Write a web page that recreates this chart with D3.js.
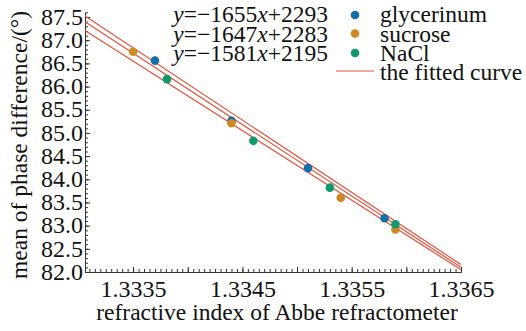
<!DOCTYPE html>
<meta charset="utf-8">
<style>
body { margin: 0; background: #fff; }
text { font-family: "Liberation Serif", "Times New Roman", serif; fill: #111; }
</style>
<body>
<div id="chart"></div>
<script src="https://cdn.jsdelivr.net/npm/d3@7"></script>
<script>
// measured points: [refractive index, mean phase difference]
var glycerinum = [[1.33370, 86.56], [1.33440, 85.26], [1.33510, 84.24], [1.33580, 83.16]]
var sucrose = [[1.33350, 86.75], [1.33440, 85.21], [1.33540, 83.60], [1.33590, 82.92]]
var nacl = [[1.33381, 86.16], [1.33460, 84.83], [1.33530, 83.82], [1.33590, 83.03]]

// fitted lines, values read at both ends of the x range
var fitGlycerinum = [[1.33306, 87.52], [1.3365, 82.16]]
var fitSucrose = [[1.33306, 87.40], [1.3365, 82.10]]
var fitNacl = [[1.33306, 87.21], [1.3365, 82.05]]

var equations = ['\u2212' + '1655', '\u2212' + '1647', '\u2212' + '1581']
var intercepts = ['2293', '2283', '2195']
var seriesNames = ['glycerinum', 'sucrose', 'NaCl']

var yTicks = [82.0, 82.5, 83.0, 83.5, 84.0, 84.5, 85.0, 85.5, 86.0, 86.5, 87.0, 87.5]
var xTicks = [1.3335, 1.3340, 1.3345, 1.3350, 1.3355, 1.3360, 1.3365]
var xLabels = ['1.3335', '1.3345', '1.3355', '1.3365']

var colors = ['#1170aa', '#cd8a24', '#109a6c']
var red = '#e4533d'
var serif = '"Liberation Serif", "Times New Roman", serif'

var width = 526
var height = 331
var margin = { left: 85, right: 461, top: 12.4, bottom: 272 }

var x = d3.scaleLinear().domain([1.33306, 1.3365]).range([margin.left, margin.right])
var y = d3.scaleLinear().domain([82.0, 87.6]).range([margin.bottom, margin.top])

var svg = d3.select('#chart')
    .append('svg')
    .attr('width', width)
    .attr('height', height)

// minor ticks
var yMinor = d3.range(820, 877).map(function (i) { return i / 10 })
var xMinor = d3.range(26662, 26731).map(function (i) { return i / 20000 })

svg.append('g')
    .attr('transform', 'translate(' + margin.left + ',0)')
    .call(d3.axisLeft(y).tickValues(yMinor).tickSize(-3).tickSizeOuter(0).tickFormat(''))
svg.append('g')
    .attr('transform', 'translate(0,' + margin.bottom + ')')
    .call(d3.axisBottom(x).tickValues(xMinor).tickSize(-3).tickSizeOuter(0).tickFormat(''))

// major ticks
var gy = svg.append('g')
    .attr('transform', 'translate(' + margin.left + ',0)')
    .call(d3.axisLeft(y).tickValues(yTicks).tickSize(-5).tickSizeOuter(0).tickPadding(2)
        .tickFormat(d3.format('.1f')))
var gx = svg.append('g')
    .attr('transform', 'translate(0,' + margin.bottom + ')')
    .call(d3.axisBottom(x).tickValues(xTicks).tickSize(-5).tickSizeOuter(0).tickPadding(8)
        .tickFormat(function (d) {
            var s = d3.format('.4f')(d)
            return xLabels.indexOf(s) >= 0 ? s : ''
        }))

svg.selectAll('g').attr('font-family', serif)
svg.selectAll('.domain').style('stroke', '#333').style('stroke-width', 1)
svg.selectAll('.tick line').style('stroke', '#333')
svg.selectAll('.tick text')
    .style('font-family', serif)
    .style('font-size', '24px')
    .style('fill', '#111')
gy.selectAll('text').attr('dy', '0.3em')
gx.selectAll('text').attr('dy', '0.71em')

// axis titles
svg.append('text')
    .attr('x', 277)
    .attr('y', 320)
    .style('text-anchor', 'middle')
    .style('font-size', '23.5px')
    .text('refractive index of Abbe refractometer')

svg.append('text')
    .attr('transform', 'translate(27,145) rotate(-90)')
    .style('text-anchor', 'middle')
    .style('font-size', '23.5px')
    .text('mean of phase difference/(\u00b0)')

// fitted lines
var line = d3.line()
    .x(function (d) { return x(d[0]) })
    .y(function (d) { return y(d[1]) })

svg.selectAll('path.fit')
    .data([fitGlycerinum, fitSucrose, fitNacl])
    .enter()
    .append('path')
    .attr('class', 'fit')
    .attr('d', line)
    .style('fill', 'none')
    .style('stroke', red)
    .style('stroke-width', 1.2)

// points
var series = [glycerinum, sucrose, nacl]
series.forEach(function (pts, i) {
    svg.selectAll('circle.s' + i)
        .data(pts)
        .enter()
        .append('circle')
        .attr('class', 's' + i)
        .attr('cx', function (d) { return x(d[0]) })
        .attr('cy', function (d) { return y(d[1]) })
        .attr('r', 4.3)
        .style('fill', colors[i])
})

// equations
var rowY = [22, 41.5, 61]
equations.forEach(function (slope, i) {
    var t = svg.append('text')
        .attr('x', 328)
        .attr('y', rowY[i])
        .style('text-anchor', 'end')
        .style('font-size', '23.5px')
    t.append('tspan').style('font-style', 'italic').text('y')
    t.append('tspan').text('=' + slope)
    t.append('tspan').style('font-style', 'italic').text('x')
    t.append('tspan').text('+' + intercepts[i])
})

// legend
var markerY = [15, 33.5, 53]
seriesNames.forEach(function (name, i) {
    svg.append('circle')
        .attr('cx', 355)
        .attr('cy', markerY[i])
        .attr('r', 4.3)
        .style('fill', colors[i])
    svg.append('text')
        .attr('x', 380)
        .attr('y', rowY[i])
        .style('font-size', '23.5px')
        .text(name)
})
svg.append('line')
    .attr('x1', 336).attr('x2', 374)
    .attr('y1', 71).attr('y2', 71)
    .style('stroke', red)
    .style('stroke-width', 1.2)
svg.append('text')
    .attr('x', 380)
    .attr('y', 80)
    .style('font-size', '23.5px')
    .text('the fitted curve')
</script>
</body>
